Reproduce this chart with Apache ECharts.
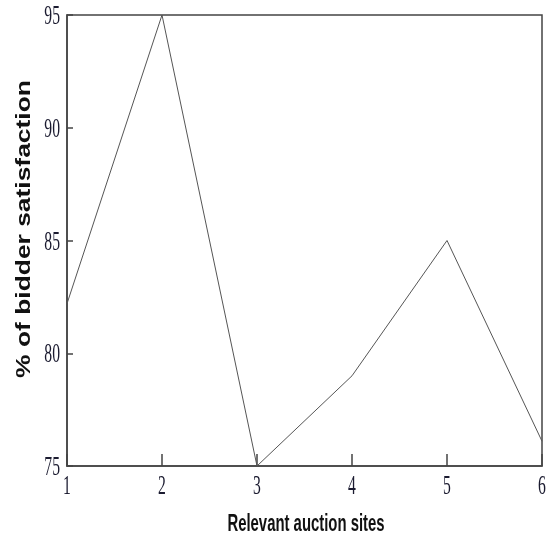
<!DOCTYPE html>
<html>
<head>
<meta charset="utf-8">
<script src="https://cdn.jsdelivr.net/npm/echarts@6/dist/echarts.min.js"></script>
<style>html,body{margin:0;padding:0;background:#fff}#c{width:552px;height:539px}</style>
</head>
<body>
<div id="c"></div>
<script>
const sites = [1, 2, 3, 4, 5, 6];
const satisfaction = [82.2, 95, 75, 79, 85, 76.1];
const xTicks = [1, 2, 3, 4, 5, 6];
const yTicks = [75, 80, 85, 90, 95];
const xTitle = 'Relevant auction sites';
const yTitle = '% of bidder satisfaction';

const chart = echarts.init(document.getElementById('c'), null, {renderer: 'canvas'});
chart.setOption({
  animation: false,
  backgroundColor: '#fff',
  grid: {left: 67, top: 15, right: 10, bottom: 73, show: true, borderColor: '#444', borderWidth: 1.5, backgroundColor: 'transparent'},
  xAxis: {
    type: 'value', min: xTicks[0], max: xTicks[xTicks.length - 1], interval: 1,
    axisLine: {show: true, lineStyle: {color: '#444', width: 1.5}},
    axisTick: {show: true, inside: true, length: 12, lineStyle: {color: '#444', width: 1.5}},
    axisLabel: {show: false},
    splitLine: {show: false}
  },
  yAxis: {
    type: 'value', min: yTicks[0], max: yTicks[yTicks.length - 1], interval: 5,
    axisLine: {show: true, lineStyle: {color: '#444', width: 1.5}},
    axisTick: {show: true, inside: true, length: 6, lineStyle: {color: '#444', width: 1.5}},
    axisLabel: {show: false},
    splitLine: {show: false}
  },
  series: [{
    type: 'line',
    data: sites.map((s, i) => [s, satisfaction[i]]),
    symbol: 'none',
    lineStyle: {color: '#555', width: 1}
  }]
});

const tickFont = '27px "Liberation Serif", "DejaVu Serif", serif';
const tickColor = '#1b1b30';
const graphics = [];
xTicks.forEach(v => {
  const p = chart.convertToPixel({xAxisIndex: 0}, v);
  graphics.push({
    type: 'text', x: p, y: 487, scaleX: 0.58,
    style: {text: String(v), x: 0, y: 0, align: 'center', verticalAlign: 'middle', font: tickFont, fill: tickColor}
  });
});
yTicks.forEach(v => {
  const p = chart.convertToPixel({yAxisIndex: 0}, v);
  graphics.push({
    type: 'text', x: 60, y: p + 2, scaleX: 0.58,
    style: {text: String(v), x: 0, y: 0, align: 'right', verticalAlign: 'middle', font: tickFont, fill: tickColor}
  });
});
graphics.push({
  type: 'text', x: 306, y: 524, scaleX: 0.62,
  style: {text: xTitle, x: 0, y: 0, align: 'center', verticalAlign: 'middle', font: 'bold 24px "Liberation Sans", Arial, sans-serif', fill: '#111'}
});
graphics.push({
  type: 'text', x: 24, y: 229, rotation: Math.PI / 2, scaleX: 1.32,
  style: {text: yTitle, x: 0, y: 0, align: 'center', verticalAlign: 'middle', font: 'bold 20px "Liberation Sans", Arial, sans-serif', fill: '#111'}
});
chart.setOption({graphic: graphics});
</script>
</body>
</html>
